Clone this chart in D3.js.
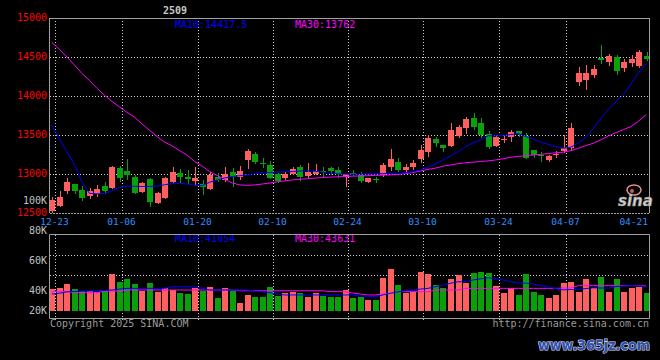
<!DOCTYPE html>
<html><head><meta charset="utf-8">
<script src="https://cdn.jsdelivr.net/npm/d3@7"></script>
<style>html,body{margin:0;padding:0;background:#000;}svg{display:block}</style>
</head><body><svg id="c" width="660" height="360"></svg>
<script>
const title = "2509";
const dates = ["12-20","12-23","12-24","12-25","12-26","12-27","12-30","12-31","01-02","01-03",
"01-06","01-07","01-08","01-09","01-10","01-13","01-14","01-15","01-16","01-17",
"01-20","01-21","01-22","01-23","01-24","01-26","01-27","02-05","02-06","02-07",
"02-10","02-11","02-12","02-13","02-14","02-17","02-18","02-19","02-20","02-21",
"02-24","02-25","02-26","02-27","02-28","03-03","03-04","03-05","03-06","03-07",
"03-10","03-11","03-12","03-13","03-14","03-17","03-18","03-19","03-20","03-21",
"03-24","03-25","03-26","03-27","03-28","03-31","04-01","04-02","04-03","04-07",
"04-08","04-09","04-10","04-11","04-14","04-15","04-16","04-17","04-18","04-21"];
const openP = [12530,12595,12785,12868,12795,12718,12747,12850,12820,13081,
13038,12966,12773,12932,12624,12688,12901,13017,12966,12910,
12868,12804,12966,12919,13022,12962,13180,13256,13145,13115,
13000,12945,12994,13086,12974,12996,13043,13073,13051,12962,
13013,12981,12897,12936,12981,13090,13154,13051,13096,13192,
13286,13449,13372,13353,13487,13594,13722,13654,13513,13359,
13442,13474,13551,13487,13308,13244,13180,13244,13299,13333,
14183,14205,14269,14491,14440,14496,14355,14419,14388,14513];
const highP = [12700,12785,12945,12875,12846,12820,12859,12901,13103,13103,
13192,12987,12901,12945,12770,12966,13086,13060,13051,13094,
12923,13030,13009,13094,13073,13103,13317,13286,13200,13170,
13013,13030,13094,13115,13137,13128,13094,13094,13094,13000,
13051,13026,12955,12962,13141,13320,13201,13128,13180,13372,
13500,13480,13372,13660,13628,13735,13786,13718,13551,13506,
13506,13564,13551,13522,13308,13286,13244,13295,13500,13654,
14376,14397,14397,14654,14538,14526,14474,14526,14590,14568];
const lowP = [12490,12580,12745,12745,12654,12680,12709,12744,12808,12900,
12923,12744,12753,12581,12615,12676,12872,12885,12872,12846,
12730,12795,12897,12901,12837,12923,13060,13124,13083,12936,
12889,12923,12981,12914,12949,12987,12966,12987,12953,12827,
12974,12890,12889,12889,12962,13038,13026,13013,13045,13137,
13222,13346,13282,13346,13462,13513,13564,13458,13321,13340,
13397,13410,13468,13188,13201,13158,13158,13205,13269,13308,
14128,14077,14227,14410,14385,14269,14308,14372,14355,14445];
const closeP = [12665,12705,12900,12782,12690,12778,12808,12782,13094,12945,
12987,12760,12889,12645,12760,12945,13022,12966,12940,12948,
12837,12987,12923,12996,12962,13038,13295,13158,13124,12949,
12914,13000,13064,12966,13030,13043,13022,13043,12996,12996,
13006,12910,12945,12927,13115,13192,13051,13090,13145,13308,
13462,13397,13327,13564,13606,13705,13606,13500,13350,13474,
13455,13535,13509,13205,13244,13237,13235,13256,13329,13590,
14301,14301,14346,14462,14513,14321,14440,14470,14568,14478];
const volume = [40467,41133,44000,40467,39533,39333,38867,39333,50667,45333,
47333,44000,39333,44667,38867,41533,40000,38200,37333,41533,
39333,42200,34867,41533,39533,31533,36667,35533,35133,42200,
36200,37800,38867,37800,35533,38200,36000,35533,35533,40000,
34867,35533,33333,33333,48200,54000,43333,37800,38867,52200,
50667,43333,41133,47333,50000,44467,51533,52000,51533,42867,
38200,41133,36667,50667,38867,36667,34867,36667,44467,45133,
38867,47333,41133,48867,38867,47333,38867,41133,42200,38200];
const ma10 = [13628,13450,13290,13120,12900,12752,12745,12750,12785,12830,
12846,12842,12840,12840,12845,12862,12878,12880,12872,12855,
12850,12895,12925,12950,12968,12978,12990,13005,13015,13020,
13025,13030,13032,13038,13040,13035,13025,13012,13003,12998,
12998,13000,13000,13002,13005,13008,13010,13015,13030,13050,
13090,13130,13180,13230,13290,13350,13400,13440,13490,13490,
13495,13505,13520,13480,13445,13410,13380,13350,13330,13345,
13400,13470,13590,13720,13830,13930,14020,14160,14300,14417.5];
const ma30 = [14688,14600,14500,14400,14290,14200,14100,14010,13930,13860,
13790,13730,13640,13560,13480,13410,13360,13300,13240,13160,
13100,13030,12980,12930,12885,12860,12855,12860,12872,12885,
12900,12912,12925,12932,12940,12948,12955,12960,12964,12968,
12972,12975,12978,12982,12985,12988,12995,13005,13018,13038,
13060,13075,13100,13115,13132,13145,13152,13160,13168,13180,
13195,13215,13225,13235,13243,13252,13262,13272,13280,13300,
13330,13365,13395,13440,13490,13530,13570,13610,13680,13762];
const volMa10 = [37300,37800,38800,39000,39200,39300,39600,39800,40000,40600,
41100,41100,41100,41100,41100,41100,42200,42200,42200,42200,
41100,40000,40000,40000,40000,40000,40000,39300,38800,38200,
37300,36700,36700,36700,36700,36700,36700,36700,36700,36700,
36700,36000,35800,35500,36700,37800,38800,39500,40000,40600,
41100,42200,43300,44500,45500,45500,46700,47400,48200,47400,
46700,45500,44800,44600,43900,43000,42300,40800,40100,40300,
40400,41000,41500,41300,41300,42300,42700,43000,42800,42200];
const volMa30 = [38900,38900,38900,38200,38200,38200,38200,39300,39300,39300,
40000,40000,40000,40000,40000,40000,40000,40000,40000,40000,
40000,40000,40000,40000,40000,39500,39500,39500,39500,39500,
39500,39500,39500,39500,39500,39500,39500,38900,38900,38900,
38000,37300,36700,36700,37300,37800,38900,38900,38900,38900,
38900,40000,40000,40000,40000,41100,41100,41100,41100,41100,
41100,41100,41100,41100,41100,41100,41100,41100,41300,41300,
42900,42900,42900,42900,42900,42900,42900,42900,42900,42700];
const priceTicks = [15000,14500,14000,13500,13000,12500];
const volTicks = [100000,80000,60000,40000,20000];
const volTickLabels = ["100K","80K","60K","40K","20K"];
const dateTicks = ["12-23","01-06","01-20","02-10","02-24","03-10","03-24","04-07","04-21"];
const priceMaText = ["MA10:14417.5","MA30:13762"];
const volMaText = ["MA10:41054","MA30:43631"];

const svg = d3.select("#c");
const L = 50, R = 649, PT = 18, PB = 213, VT = 235, VB = 318;
const mono = "'DejaVu Sans Mono', monospace";
svg.append("rect").attr("width",660).attr("height",360).attr("fill","#000");

const x = d3.scaleBand().domain(dates).range([48, 650]).padding(0);
const cx = d => x(d) + x.bandwidth()/2;
const yP = d3.scaleLinear().domain([12500, 15000]).range([PB, PT]);
const yV = d3.scaleLinear().domain([26000, 100000]).range([311, 200]);

const defs = svg.append("defs");
defs.append("clipPath").attr("id","cp").append("rect").attr("x",L).attr("y",PT).attr("width",R-L).attr("height",PB-PT);
defs.append("clipPath").attr("id","cv").append("rect").attr("x",L).attr("y",VT).attr("width",R-L).attr("height",VB-VT);

const gridC = "#cfcfcf";
svg.append("g").selectAll("line").data(priceTicks.filter(t => t < 15000 && t > 12500)).join("line")
  .attr("x1",L).attr("x2",R).attr("y1",d=>Math.round(yP(d))+0.5).attr("y2",d=>Math.round(yP(d))+0.5)
  .attr("stroke",gridC).attr("stroke-dasharray","1,2");
const gridDates = dateTicks.slice(0, dateTicks.length-1);
svg.append("g").selectAll("line").data(gridDates).join("line")
  .attr("x1",d=>Math.round(x(d))-0.5).attr("x2",d=>Math.round(x(d))-0.5)
  .attr("y1",PT).attr("y2",PB).attr("stroke",gridC).attr("stroke-dasharray","1,2");
svg.append("g").selectAll("line").data(gridDates).join("line")
  .attr("x1",d=>Math.round(x(d))-0.5).attr("x2",d=>Math.round(x(d))-0.5)
  .attr("y1",VT).attr("y2",VB+3).attr("stroke",gridC).attr("stroke-dasharray","1,2");
svg.append("g").selectAll("line").data([1,2]).join("line")
  .attr("x1",L).attr("x2",R).attr("y1",d=>VT+20*d+0.5).attr("y2",d=>VT+20*d+0.5)
  .attr("stroke",gridC).attr("stroke-dasharray","1,2");

const up = "#ff5f5f", dn = "#0aa00a";
const idx = d3.range(dates.length);
const col = i => closeP[i] >= openP[i] ? up : dn;
const left = i => Math.round(cx(dates[i]) - 2.6);

const gp = svg.append("g").attr("clip-path","url(#cp)");
gp.selectAll("rect.w").data(idx).join("rect").attr("class","w")
  .attr("x",i=>left(i)+3).attr("width",1)
  .attr("y",i=>Math.round(yP(highP[i]))).attr("height",i=>Math.max(1,Math.round(yP(lowP[i]))-Math.round(yP(highP[i]))))
  .attr("fill",col);
gp.selectAll("rect.b").data(idx).join("rect").attr("class","b")
  .attr("x",left).attr("width",6)
  .attr("y",i=>Math.round(yP(Math.max(openP[i],closeP[i]))))
  .attr("height",i=>Math.max(1,Math.round(yP(Math.min(openP[i],closeP[i])))-Math.round(yP(Math.max(openP[i],closeP[i])))))
  .attr("fill",col);

const lineP = arr => d3.line().x((d,i)=>cx(dates[i])).y(d=>yP(d))(arr);
gp.append("path").attr("d",lineP(ma30)).attr("fill","none").attr("stroke","#ff00ff").attr("stroke-width",1);
gp.append("path").attr("d",lineP(ma10)).attr("fill","none").attr("stroke","#0000ff").attr("stroke-width",1);

const gv = svg.append("g").attr("clip-path","url(#cv)");
gv.selectAll("rect").data(idx).join("rect")
  .attr("x",left).attr("width",6)
  .attr("y",i=>Math.round(yV(volume[i]))).attr("height",i=>Math.round(yV.range()[0])-Math.round(yV(volume[i])))
  .attr("fill",col);
const lineV = arr => d3.line().x((d,i)=>cx(dates[i])).y(d=>yV(d))(arr);
gv.append("path").attr("d",lineV(volMa30)).attr("fill","none").attr("stroke","#ff00ff").attr("stroke-width",1);
gv.append("path").attr("d",lineV(volMa10)).attr("fill","none").attr("stroke","#0000ff").attr("stroke-width",1);

const maCols = ["#0000ff","#ff00ff"];
svg.append("g").selectAll("text").data(priceMaText).join("text")
  .attr("x",(d,i)=>[175,295][i]).attr("y",27.5).attr("fill",(d,i)=>maCols[i])
  .attr("font-family",mono).attr("font-size",10).text(d=>d);
svg.append("g").selectAll("text").data(volMaText).join("text")
  .attr("x",(d,i)=>[175,295][i]).attr("y",242).attr("fill",(d,i)=>maCols[i])
  .attr("font-family",mono).attr("font-size",10).text(d=>d);

const bc = "#a0a0a0";
const border = (x1,y1,x2,y2,dash) => svg.append("line").attr("x1",x1).attr("y1",y1).attr("x2",x2).attr("y2",y2)
  .attr("stroke",bc).attr("stroke-dasharray",dash||null);
border(L-0.5,PT+0.5,R+0.5,PT+0.5);
border(L-0.5,PT,L-0.5,PB);
border(R+0.5,PT,R+0.5,PB);
border(L,PB+0.5,R,PB+0.5,"2,1");
border(L-0.5,VT-0.5,R+0.5,VT-0.5);
border(L-0.5,VT-0.5,L-0.5,VB+0.5);
border(R+0.5,VT-0.5,R+0.5,VB+0.5);
border(L-0.5,VB+0.5,R+0.5,VB+0.5);

svg.append("g").selectAll("text").data(priceTicks).join("text")
  .attr("x",47).attr("y",d=>yP(d)+3).attr("text-anchor","end").attr("fill","#ff0000")
  .attr("font-family",mono).attr("font-size",10).text(d=>d);
svg.append("g").selectAll("text").data(volTicks).join("text")
  .attr("x",47).attr("y",d=>Math.min(yV(d), yV.range()[0]-1)+4.3).attr("text-anchor","end").attr("fill","#c0c0c0")
  .attr("font-family",mono).attr("font-size",10).text((d,i)=>volTickLabels[i]);
svg.append("g").selectAll("text").data(dateTicks).join("text")
  .attr("x",(d,i)=> i===dateTicks.length-1 ? 648 : Math.round(x(d))-1.5)
  .attr("text-anchor",(d,i)=> i===dateTicks.length-1 ? "end" : "middle")
  .attr("y",225).attr("fill","#2f8fff").attr("font-family",mono).attr("font-size",9.5).text(d=>d);

svg.append("text").attr("x",175).attr("y",13.5).attr("text-anchor","middle").attr("fill","#c8c8c8")
  .attr("font-family",mono).attr("font-size",10).attr("font-weight","bold").text(title);
svg.append("text").attr("x",50).attr("y",327).attr("fill","#9a9a9a").attr("font-family",mono).attr("font-size",10).text("Copyright 2025 SINA.COM");
svg.append("text").attr("x",649).attr("y",326.5).attr("text-anchor","end").attr("fill","#9a9a9a").attr("font-family",mono).attr("font-size",10).text("http://finance.sina.com.cn");

svg.append("ellipse").attr("cx",634).attr("cy",190).attr("rx",7).attr("ry",5).attr("fill","none").attr("stroke","#e89090").attr("stroke-width",1.5);
svg.append("circle").attr("cx",632).attr("cy",191).attr("r",2).attr("fill","#c06060");
svg.append("text").attr("x",618).attr("y",206).attr("fill","#d0d0d0").attr("stroke","#888").attr("stroke-width",0.5)
  .attr("font-family","'DejaVu Sans', sans-serif").attr("font-size",15).attr("font-weight","bold").attr("font-style","italic").text("sina");
svg.append("text").attr("x",538).attr("y",350).attr("fill","#3050a8").attr("stroke","#d8def8").attr("stroke-width",1.2)
  .attr("paint-order","stroke").attr("font-family","'DejaVu Sans', sans-serif").attr("font-size",14).attr("font-weight","bold")
  .attr("textLength",112).attr("lengthAdjust","spacingAndGlyphs").text("www.365jz.com");
</script></body></html>
